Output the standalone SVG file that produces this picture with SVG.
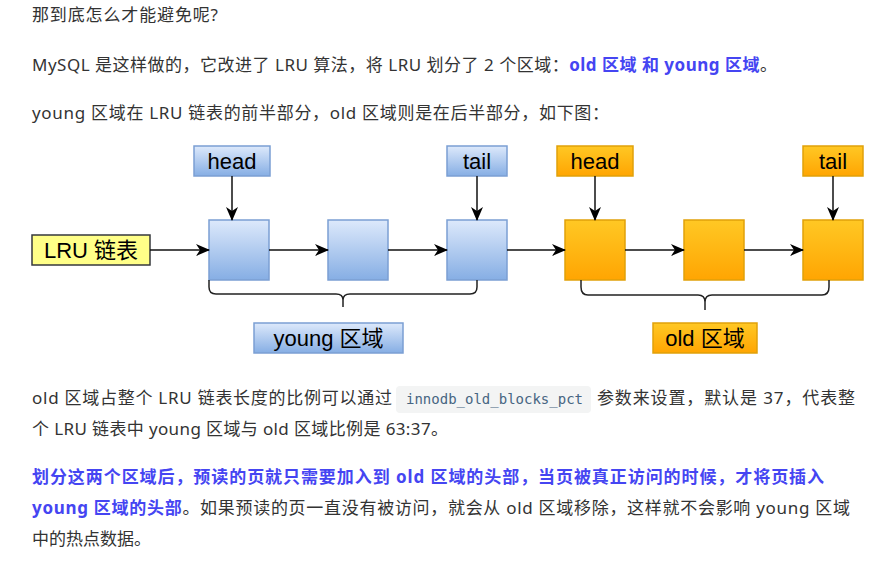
<svg xmlns="http://www.w3.org/2000/svg" width="894" height="562" viewBox="0 0 894 562">
<defs>
<linearGradient id="gBlue" x1="0" y1="0" x2="0" y2="1">
<stop offset="0" stop-color="#dde9fb"/>
<stop offset="1" stop-color="#86aee4"/>
</linearGradient>
<linearGradient id="gOrange" x1="0" y1="0" x2="0" y2="1">
<stop offset="0" stop-color="#ffc824"/>
<stop offset="1" stop-color="#ffa502"/>
</linearGradient>
<marker id="arr" viewBox="0 0 14 12" refX="13" refY="6" markerWidth="14" markerHeight="12" markerUnits="userSpaceOnUse" orient="auto">
<path d="M0,0 L14,6 L0,12 L4,6 Z" fill="#000"/>
</marker>
</defs>
<style>
.p{font-family:"Noto Sans","Noto Sans CJK SC",sans-serif;font-size:17px;fill:#333}
.b{fill:#4545f2;font-weight:bold}
.code{font-family:"DejaVu Sans Mono","Liberation Mono",monospace;font-size:14px;fill:#476582}
.lbl{font-family:"Liberation Sans","Noto Sans CJK SC",sans-serif;font-size:22px;fill:#000;text-anchor:middle}
.blue{fill:url(#gBlue);stroke:#7b9fd3;stroke-width:1.5}
.orange{fill:url(#gOrange);stroke:#e1a10a;stroke-width:1.5}
.ln{stroke:#111;stroke-width:1.5;fill:none}
.br{stroke:#222;stroke-width:1.5;fill:none}
</style>
<rect width="894" height="562" fill="#fff"/>

<text class="p" x="32" y="21" textLength="186" lengthAdjust="spacing">那到底怎么才能避免呢?</text>
<text class="p" x="32" y="71" textLength="745" lengthAdjust="spacing">MySQL 是这样做的，它改进了 LRU 算法，将 LRU 划分了 2 个区域：<tspan class="b">old 区域 和 young 区域</tspan>。</text>
<text class="p" x="32" y="119" textLength="577" lengthAdjust="spacing">young 区域在 LRU 链表的前半部分，old 区域则是在后半部分，如下图：</text>

<g id="lru">
<rect x="32" y="235" width="118" height="30" fill="#ffff88" stroke="#36393d" stroke-width="1.5"/>
<text class="lbl" x="91" y="258">LRU 链表</text>
</g>
<g id="yhead">
<rect class="blue" x="194" y="146" width="76" height="30"/>
<text class="lbl" x="232" y="169">head</text>
</g>
<g id="ytail">
<rect class="blue" x="447" y="146" width="60" height="30"/>
<text class="lbl" x="477" y="169">tail</text>
</g>
<g id="ohead">
<rect class="orange" x="557" y="146" width="76" height="30"/>
<text class="lbl" x="595" y="169">head</text>
</g>
<g id="otail">
<rect class="orange" x="803" y="146" width="60" height="30"/>
<text class="lbl" x="833" y="169">tail</text>
</g>
<g id="y1"><rect class="blue" x="209" y="220" width="60" height="60"/></g>
<g id="y2"><rect class="blue" x="328" y="220" width="60" height="60"/></g>
<g id="y3"><rect class="blue" x="447" y="220" width="60" height="60"/></g>
<g id="o1"><rect class="orange" x="565" y="220" width="60" height="60"/></g>
<g id="o2"><rect class="orange" x="684" y="220" width="60" height="60"/></g>
<g id="o3"><rect class="orange" x="803" y="220" width="60" height="60"/></g>
<g id="young">
<rect class="blue" x="254" y="323" width="149" height="30"/>
<text class="lbl" x="328.5" y="346">young 区域</text>
</g>
<g id="old">
<rect class="orange" x="653" y="323" width="104" height="30"/>
<text class="lbl" x="705" y="346">old 区域</text>
</g>

<g id="connectors">
<path class="ln" d="M150,250 H209" marker-end="url(#arr)"/>
<path class="ln" d="M269,250 H328" marker-end="url(#arr)"/>
<path class="ln" d="M388,250 H447" marker-end="url(#arr)"/>
<path class="ln" d="M507,250 H565" marker-end="url(#arr)"/>
<path class="ln" d="M625,250 H684" marker-end="url(#arr)"/>
<path class="ln" d="M744,250 H803" marker-end="url(#arr)"/>
<path class="ln" d="M232,176 V220" marker-end="url(#arr)"/>
<path class="ln" d="M477,176 V220" marker-end="url(#arr)"/>
<path class="ln" d="M595,176 V220" marker-end="url(#arr)"/>
<path class="ln" d="M833,176 V220" marker-end="url(#arr)"/>
<path class="br" d="M209,280 V287 Q209,294 216,294 H336 Q343,294 343,300 V307 M343,300 Q343,294 350,294 H470 Q477,294 477,287 V280"/>
<path class="br" d="M581,280 V287 Q581,295 588,295 H698 Q705,295 705,302 V310 M705,302 Q705,295 712,295 H822 Q829,295 829,287 V280"/>
</g>

<rect x="396" y="386" width="195" height="27" rx="4" fill="#f3f4f4"/>
<text class="p" x="32" y="404" textLength="360" lengthAdjust="spacing">old 区域占整个 LRU 链表长度的比例可以通过</text>
<text class="code" x="406" y="404">innodb_old_blocks_pct</text>
<text class="p" x="597" y="404" textLength="258" lengthAdjust="spacing">参数来设置，默认是 37，代表整</text>
<text class="p" x="32" y="435" textLength="416" lengthAdjust="spacing">个 LRU 链表中 young 区域与 old 区域比例是 63:37。</text>
<text class="p b" x="32" y="483" textLength="792" lengthAdjust="spacing">划分这两个区域后，预读的页就只需要加入到 old 区域的头部，当页被真正访问的时候，才将页插入</text>
<text class="p" x="32" y="514" textLength="818" lengthAdjust="spacing"><tspan class="b">young 区域的头部</tspan>。如果预读的页一直没有被访问，就会从 old 区域移除，这样就不会影响 young 区域</text>
<text class="p" x="32" y="545">中的热点数据。</text>
</svg>
